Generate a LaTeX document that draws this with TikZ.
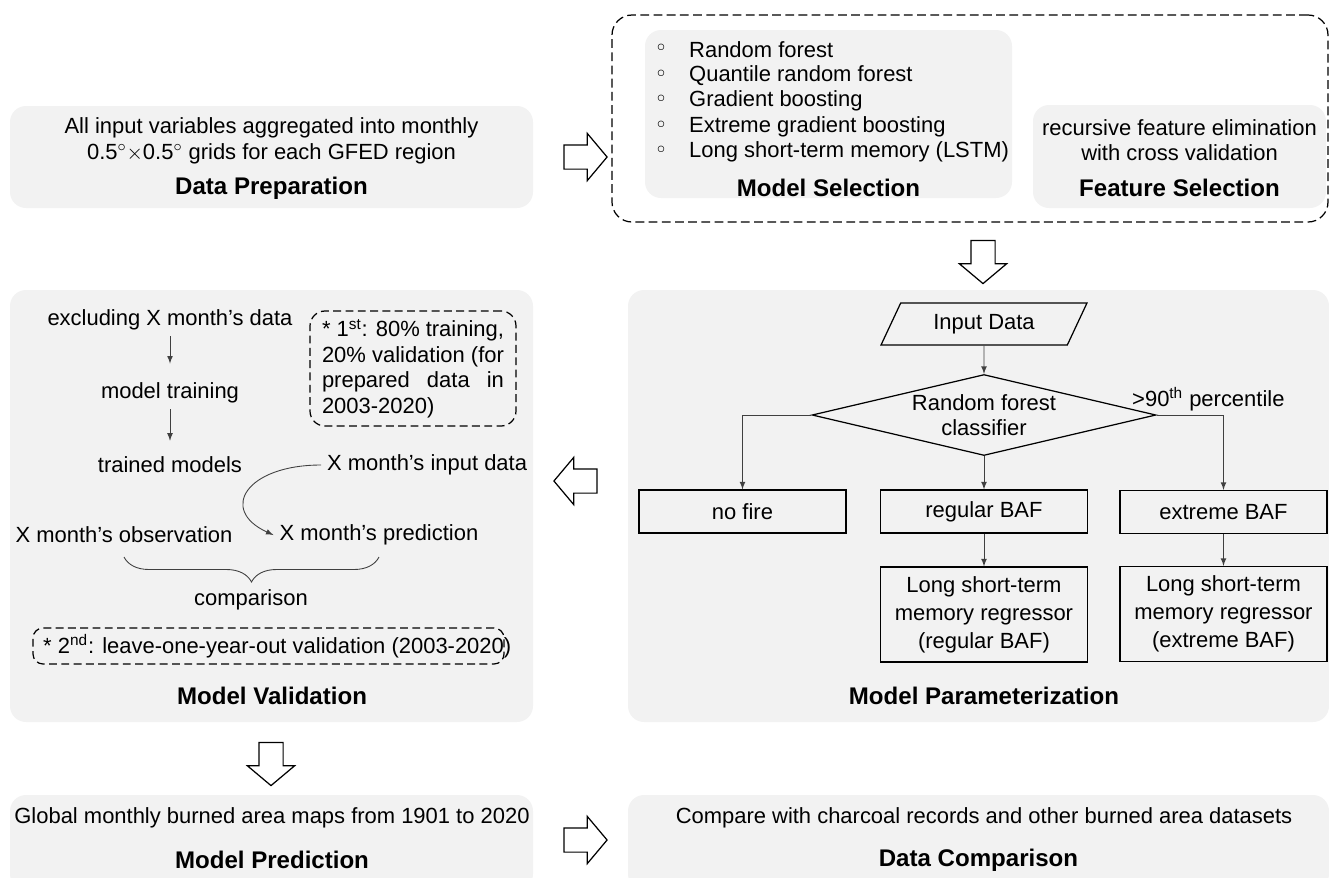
\documentclass[tikz,border=0pt]{standalone}
\usepackage{fontspec}
\setmainfont{Liberation Sans}
\newfontfamily\symfont{DejaVu Sans}
\usetikzlibrary{arrows,shapes.geometric,shapes.arrows,decorations.pathreplacing}
\definecolor{panelgray}{HTML}{F2F2F2}
\definecolor{linegray}{HTML}{404040}

\begin{document}
\begin{tikzpicture}[x=0.02cm,y=-0.02cm,
        font=\fontsize{12.5}{14.6}\selectfont,
        panel/.style={fill=panelgray,rounded corners=0.32cm,inner sep=0pt},
        title/.style={font=\fontsize{13.7}{16}\selectfont\bfseries},
        blockarrow/.style={single arrow,draw,fill=white,line width=0.7pt,inner sep=0.23cm,
            single arrow head extend=0.23cm,single arrow tip angle=100,minimum height=0.86cm},
        note/.style={draw,dash pattern=on 4.5pt off 2.5pt,line width=0.7pt,rounded corners=0.3cm},
        para/.style={trapezium,trapezium left angle=45,trapezium right angle=135,draw,line width=0.7pt,
            trapezium stretches body,minimum width=4.12cm,minimum height=0.84cm,inner sep=0pt},
        dia/.style={diamond,draw,line width=0.7pt,aspect=4.25,inner sep=0pt,align=center,
            minimum width=6.88cm,minimum height=1.62cm},
        fbox/.style={draw,line width=0.7pt,minimum width=4.14cm,minimum height=0.86cm,align=center},
        flow/.style={-latex,linegray,line width=0.5pt}]
        \def\px{0.02cm}
        \useasboundingbox (0,0) rectangle (1329,877);

        \node[panel,minimum width=523*\px,minimum height=102*\px] (prepbox) at (271.5,157) {};
        \node[panel,minimum width=367*\px,minimum height=168*\px] (mselbox) at (828.5,114) {};
        \node[panel,minimum width=293*\px,minimum height=103*\px] (fselbox) at (1179.5,156.5) {};
        \node[panel,minimum width=523*\px,minimum height=432*\px] (validbox) at (271.5,506) {};
        \node[panel,minimum width=701*\px,minimum height=432*\px] (parambox) at (978.5,506) {};
        \node[panel,minimum width=523*\px,minimum height=95*\px] (predictbox) at (271.5,842.5) {};
        \node[panel,minimum width=701*\px,minimum height=95*\px] (compbox) at (978.5,842.5) {};
        \node[note,dash pattern=on 5pt off 2.5pt,rounded corners=0.4cm,minimum width=716*\px,minimum height=207*\px] (selframe) at (970,118.5) {};

        \node[blockarrow] (arr1) at (580.5,157) {};
        \node[blockarrow,rotate=-90] (arr2) at (983,257) {};
        \node[blockarrow,rotate=180] (arr3) at (580.5,481) {};
        \node[blockarrow,rotate=-90] (arr4) at (271,759) {};
        \node[blockarrow] (arr5) at (580.5,840) {};

        \node[align=center] (preptxt) at (271.5,141) {All input variables aggregated into monthly\\0.5$^\circ\times$0.5$^\circ$ grids for each GFED region};
        \node[title] (preptitle) at (271.5,188) {Data Preparation};

        \foreach \mdl [count=\i] in {Random forest,Quantile random forest,Gradient boosting,Extreme gradient boosting,Long short-term memory (LSTM)}{
            \node (dot\i) at (661,24.5+25.5*\i) {\symfont ◦};
            \node[anchor=west] (model\i) at (683,24.5+25.5*\i) {\mdl};
        }
        \node[title] (mseltitle) at (828.5,188) {Model Selection};

        \node[align=center] (fseltxt) at (1179.5,140) {recursive feature elimination\\with cross validation};
        \node[title] (fseltitle) at (1179.5,188) {Feature Selection};

        \node (excl) at (170,320) {excluding X month’s data};
        \node (train) at (170,393) {model training};
        \node (trained) at (170,465) {trained models};
        \node[anchor=west] (indata) at (321,465) {X month’s input data};
        \node (observ) at (124,535) {X month’s observation};
        \node (predict) at (379,535) {X month’s prediction};
        \node (compare) at (251,600) {comparison};
        \draw[flow,shorten >=0.26cm] (excl) -- (train);
        \draw[flow,shorten >=0.2cm] (train) -- (trained);
        \draw[flow] (indata.west) .. controls +(-75,0) and +(-55,-25) .. (predict.west);
        \draw[linegray,line width=0.5pt,decorate,decoration={brace,amplitude=0.5cm}] (predict.south |- 0,557) -- (observ.south |- 0,557);
        \node[note,minimum width=206*\px,minimum height=115*\px,align=left,inner sep=0pt,font=\fontsize{12.5}{14.5}\selectfont] (note1) at (413,368.5)
            {\makebox[3.64cm][s]{* 1\textsuperscript{st}: 80\% training,}\\\makebox[3.64cm][s]{20\% validation (for}\\\makebox[3.64cm][s]{prepared data in}\\2003-2020)};
        \node[note,minimum width=471*\px,minimum height=36*\px,rounded corners=0.2cm] (note2) at (268.5,646) {};
        \node[anchor=west] (note2txt) at (37,646) {* 2\textsuperscript{nd}: leave-one-year-out validation (2003-2020)};
        \node[title] (validtitle) at (272,696) {Model Validation};

        \node[para] (input) at (984,324) {Input Data};
        \node[dia] (rf) at (984,415) {Random forest\\classifier};
        \node[anchor=west] (pct) at (1126,399) {>90\textsuperscript{th} percentile};
        \node[fbox] (nofire) at (742.5,511.5) {no fire};
        \node[fbox] (regular) at (984,511.5) {regular BAF};
        \node[fbox] (extreme) at (1223.5,512) {extreme BAF};
        \node[fbox,minimum height=1.9cm,font=\fontsize{12.5}{15.9}\selectfont] (lstmreg) at (984,614.5) {Long short-term\\memory regressor\\(regular BAF)};
        \node[fbox,minimum height=1.9cm,font=\fontsize{12.5}{15.9}\selectfont] (lstmext) at (1223.5,614) {Long short-term\\memory regressor\\(extreme BAF)};
        \draw[flow] (input) -- (rf);
        \draw[flow] (rf.west) -| (nofire);
        \draw[flow] (rf) -- (regular);
        \draw[flow] (rf.east) -| (extreme);
        \draw[flow] (regular) -- (lstmreg);
        \draw[flow] (extreme) -- (lstmext);
        \node[title] (paramtitle) at (984,696) {Model Parameterization};

        \node (predicttxt) at (272,818) {Global monthly burned area maps from 1901 to 2020};
        \node[title] (predicttitle) at (272,860) {Model Prediction};
        \node (comptxt) at (984,818) {Compare with charcoal records and other burned area datasets};
        \node[title] (comptitle) at (978.5,860) {Data Comparison};
    \end{tikzpicture}
\end{document}
